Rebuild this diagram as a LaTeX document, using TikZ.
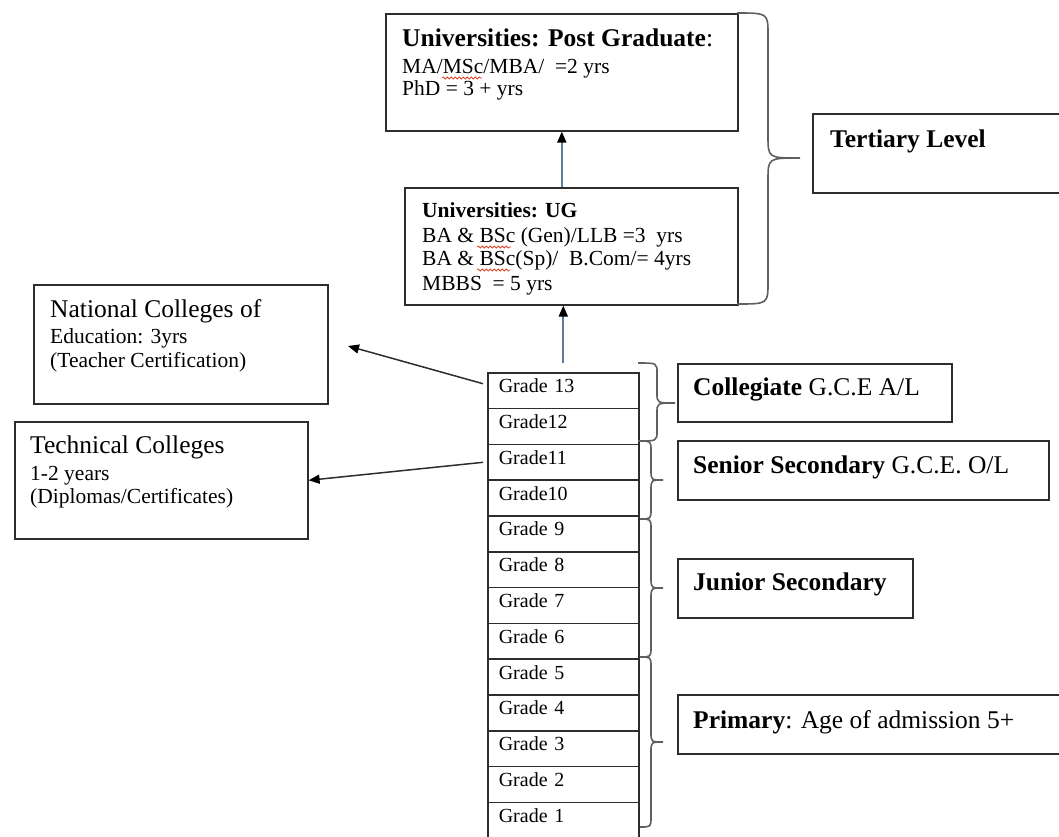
\documentclass[tikz,border=0pt]{standalone}
\usepackage{fontspec}
\setmainfont{Liberation Serif}
\usetikzlibrary{arrows.meta,decorations.pathmorphing}
\definecolor{boxline}{RGB}{45,45,45}
\definecolor{braceline}{RGB}{95,95,95}
\definecolor{stemline}{RGB}{95,125,150}
\definecolor{spellred}{RGB}{220,70,40}
\tikzset{
  box/.style={draw=boxline, line width=1.6pt, anchor=north west, inner sep=0pt},
  big/.style={anchor=base west, inner sep=0pt, font=\fontsize{25.5}{28}\selectfont},
  small/.style={anchor=base west, inner sep=0pt, font=\fontsize{21.5}{24}\selectfont},
  gradebox/.style={draw=boxline, line width=1.6pt, anchor=north west,
    minimum width=151pt, minimum height=35.8pt, text width=129pt,
    inner xsep=11pt, inner ysep=0pt, align=left,
    text height=13pt, text depth=9pt, font=\fontsize{20}{22}\selectfont},
  uparrow/.style={draw=stemline, line width=1.8pt, -{Triangle[length=11pt,width=9pt,color=black]}},
  sidearrow/.style={draw=boxline, line width=1.5pt, -{Triangle[length=11pt,width=9pt,color=black]}},
  levelbrace/.style={draw=braceline, line width=1.6pt},
  squiggle/.style={draw=spellred, line width=0.8pt, decorate,
    decoration={snake, segment length=4pt, amplitude=1pt}}
}
% brace: left x, middle x, tip x, top y, tip y, bottom y, end radius
\newcommand\levelbr[7]{%
  \draw[levelbrace] (#1,#4) .. controls (#2,#4) .. (#2,#4+#7) -- (#2,#5-#7)
    .. controls (#2,#5) .. (#3,#5) .. controls (#2,#5) .. (#2,#5+#7)
    -- (#2,#6-#7) .. controls (#2,#6) .. (#1,#6);}
\begin{document}
\begin{tikzpicture}[x=1pt,y=-1pt]
\useasboundingbox (0,0) rectangle (1059,836);
% tertiary
\node[box, minimum width=352pt, minimum height=117pt] (pg) at (385,13) {};
\node[big] (pgA) at (402,46) {\textbf{Universities: Post Graduate}:};
\node[small] (pgB) at (402,73) {MA/MSc/MBA/\ \ =2 yrs};
\node[small] (pgC) at (402,95) {PhD = 3 + yrs};
\draw[squiggle] (442,78) -- (482,78);
\node[box, minimum width=333pt, minimum height=117pt] (ug) at (404,187) {};
\node[small] (ugA) at (422,217) {\textbf{Universities: UG}};
\node[small] (ugB) at (422,242) {BA \& BSc (Gen)/LLB =3\ \ yrs};
\node[small] (ugC) at (422,265) {BA \& BSc(Sp)/\ \ B.Com/= 4yrs};
\node[small] (ugD) at (422,290) {MBBS\ \ = 5 yrs};
\draw[squiggle] (477,247) -- (511,247);
\draw[squiggle] (477,270) -- (510,270);
\node[box, minimum width=260pt, minimum height=79pt] (tert) at (812,113) {};
\node[big] (tertA) at (830,147) {\textbf{Tertiary Level}};
\levelbr{737}{768}{800}{13}{158}{304}{22}
% side colleges
\node[box, minimum width=294pt, minimum height=119pt] (ncoe) at (33,284) {};
\node[big] (ncoeA) at (50,317) {National Colleges of};
\node[small] (ncoeB) at (50,343) {Education: 3yrs};
\node[small] (ncoeC) at (50,367) {(Teacher Certification)};
\node[box, minimum width=293pt, minimum height=117pt] (tech) at (14,421) {};
\node[big] (techA) at (30,453) {Technical Colleges};
\node[small] (techB) at (30,480) {1-2 years};
\node[small] (techC) at (30,503) {(Diplomas/Certificates)};
% grades
\foreach \g/\t in {13/Grade 13,12/Grade12,11/Grade11,10/Grade10,9/Grade 9,8/Grade 8,
  7/Grade 7,6/Grade 6,5/Grade 5,4/Grade 4,3/Grade 3,2/Grade 2,1/Grade 1}
  \node[gradebox] (g\g) at (487,{372+35.8*(13-\g)}) {\t};
% school levels
\node[box, minimum width=274pt, minimum height=58pt] (coll) at (677,363) {};
\node[big] (collA) at (693,395) {\textbf{Collegiate} G.C.E A/L};
\node[box, minimum width=371pt, minimum height=59pt] (sen) at (677,440) {};
\node[big] (senA) at (693,473) {\textbf{Senior Secondary} G.C.E. O/L};
\node[box, minimum width=235pt, minimum height=59pt] (jun) at (677,558) {};
\node[big] (junA) at (693,590) {\textbf{Junior Secondary}};
\node[box, minimum width=395pt, minimum height=59pt] (prim) at (677,694) {};
\node[big] (primA) at (693,728) {\textbf{Primary}: Age of admission 5+};
\levelbr{638}{657}{675}{363}{403}{441}{10}
\levelbr{640}{651}{663}{441}{480}{519}{10}
\levelbr{640}{651}{663}{519}{588}{657}{10}
\levelbr{640}{651}{663}{657}{742}{827}{10}
% arrows
\draw[uparrow] ([yshift=9pt]g13.north) -- (g13.north |- ug.south);
\draw[uparrow] (pg.south |- ug.north) -- (pg.south);
\coordinate (ncoeTip) at (348,346);
\draw[sidearrow] ([xshift=-4pt,yshift=7pt]g13.west) -- (ncoeTip);
\draw[sidearrow] ([xshift=-4pt]g11.west) -- (tech.east);
\end{tikzpicture}
\end{document}
